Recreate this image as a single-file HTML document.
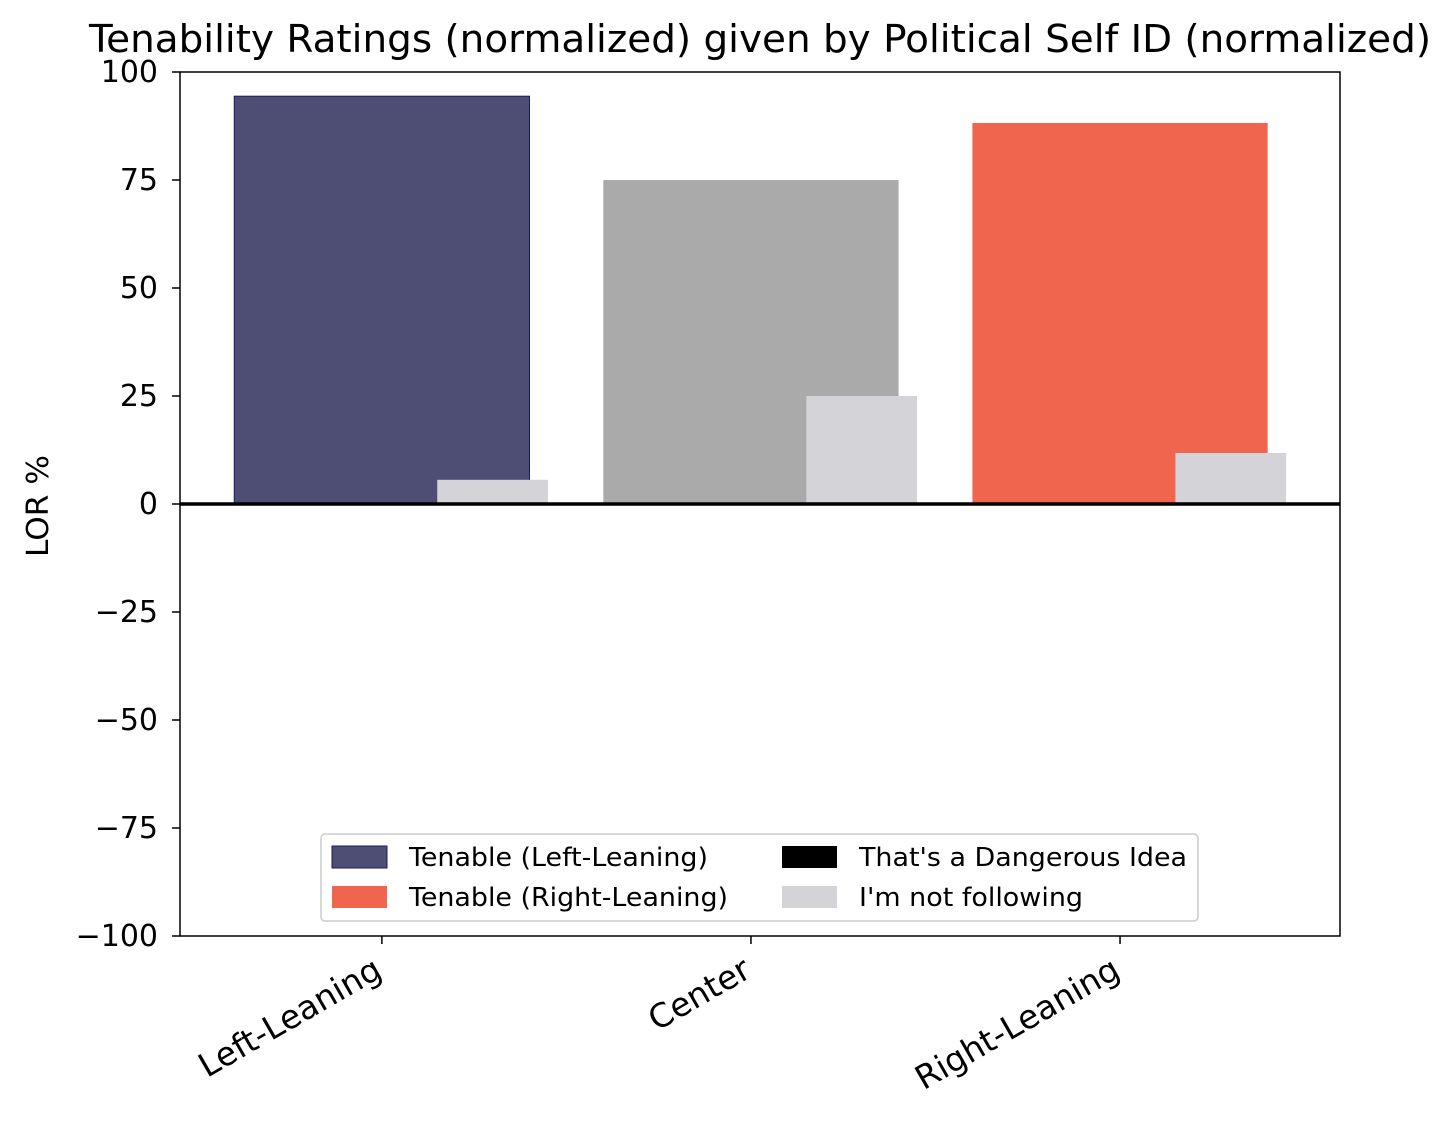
<!DOCTYPE html>
<html><head><meta charset="utf-8"><style>
body{margin:0;background:#fff;}
svg text{font-family:"DejaVu Sans","Liberation Sans",sans-serif;fill:#000;}
</style></head><body>
<svg id="chart" width="1456" height="1123" xmlns="http://www.w3.org/2000/svg">
<text x="760" y="52" font-size="38" text-anchor="middle" textLength="1342" lengthAdjust="spacingAndGlyphs">Tenability Ratings (normalized) given by Political Self ID (normalized)</text>
<text transform="translate(48,506) rotate(-90)" font-size="30" text-anchor="middle" textLength="102" lengthAdjust="spacingAndGlyphs">LOR %</text>
<g id="bars"></g><g id="yticks"></g><g id="xticks"></g>
<line x1="180" x2="1340" y1="504" y2="504" stroke="#000" stroke-width="3.5"/>
<rect x="180" y="72" width="1160" height="864" fill="none" stroke="#000" stroke-width="1.5"/>
<g>
<rect x="321" y="834" width="877" height="87" rx="4" fill="#fff" stroke="#ccc" stroke-width="1.5"/>
<rect x="332" y="846" width="55" height="22" fill="#4e4e75" stroke="#1a1a66"/>
<text x="409" y="866" font-size="26" textLength="299" lengthAdjust="spacingAndGlyphs">Tenable (Left-Leaning)</text>
<rect x="332" y="886" width="55" height="22" fill="#f0654d"/>
<text x="409" y="906" font-size="26" textLength="319" lengthAdjust="spacingAndGlyphs">Tenable (Right-Leaning)</text>
<rect x="782" y="846" width="55" height="22" fill="#000"/>
<text x="859" y="866" font-size="26" textLength="328" lengthAdjust="spacingAndGlyphs">That's a Dangerous Idea</text>
<rect x="782" y="886" width="55" height="22" fill="#d3d3d8"/>
<text x="859" y="906" font-size="26" textLength="224" lengthAdjust="spacingAndGlyphs">I'm not following</text>
</g>
</svg>
<script>
const categories=["Left-Leaning","Center","Right-Leaning"];
const tenable=[94.4,75,88.2];
const notFollowing=[5.6,25,11.8];
const tenableColors=["#4e4e75","#aaaaaa","#f0654d"];
const yTicks=[100,75,50,25,0,-25,-50,-75,-100];
const NS="http://www.w3.org/2000/svg";
const X0=180,X1=1340,Y0=72,Y1=936,xmin=-0.547,xmax=2.596;
const xs=v=>X0+(v-xmin)/(xmax-xmin)*(X1-X0);
const ys=v=>Y0+(100-v)/200*(Y1-Y0);
function mk(t,a,p){const e=document.createElementNS(NS,t);for(const k in a)e.setAttribute(k,a[k]);p.appendChild(e);return e;}
const bars=document.getElementById('bars');
categories.forEach((c,i)=>{
 const b=mk('rect',{x:xs(i-0.4),width:xs(i+0.4)-xs(i-0.4),y:ys(tenable[i]),height:ys(0)-ys(tenable[i]),fill:tenableColors[i]},bars);
 if(i===0)b.setAttribute('stroke','#1a1a66');
 
 
 const s=mk('rect',{x:xs(i+0.15),width:xs(i+0.45)-xs(i+0.15),y:ys(notFollowing[i]),height:ys(0)-ys(notFollowing[i]),fill:'#d3d3d8'},bars);
 
 
});
const yt=document.getElementById('yticks');
yTicks.forEach(v=>{
 const l=mk('line',{x1:172,x2:180,y1:ys(v),y2:ys(v),stroke:'#000','stroke-width':1.5},yt);
 
 
 const t=mk('text',{x:158,y:ys(v)+10,'font-size':30,'text-anchor':'end'},yt);
 t.textContent=v<0?'\u2212'+(-v):String(v);
 
 
});
const xt=document.getElementById('xticks');
categories.forEach((c,i)=>{
 const x=xs(i);
 const l=mk('line',{x1:x,x2:x,y1:936,y2:944,stroke:'#000','stroke-width':1.5},xt);
 
 
 const t=mk('text',{transform:`translate(${x+2},${976}) rotate(-30)`,'font-size':33,'text-anchor':'end'},xt);
 t.textContent=c;
 
 
});
</script>
</body></html>
